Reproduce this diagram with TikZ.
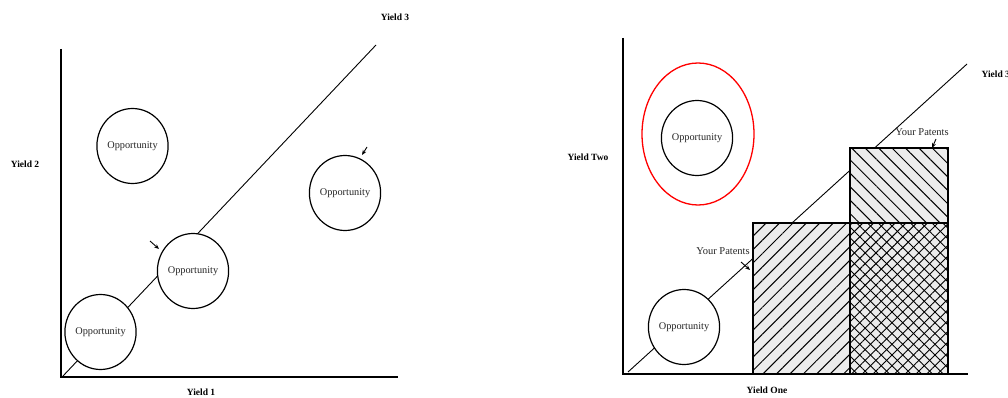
\documentclass[tikz,border=0pt]{standalone}
\usepackage{fontspec}
\setmainfont{Liberation Serif}
\usetikzlibrary{shapes.geometric,patterns.meta,arrows.meta}
\begin{document}
\begin{tikzpicture}[x=1pt,y=-1pt,
  axis/.style={line width=1.3pt},
  diag/.style={line width=0.9pt},
  opp/.style={ellipse,draw,line width=1.2pt,fill=white,inner sep=0pt,
    minimum width=64pt,minimum height=75pt,font=\fontsize{10.3}{12}\selectfont,text=black!85},
  lab/.style={font=\bfseries\fontsize{9.5}{11}\selectfont},
  pat/.style={font=\fontsize{10.5}{12}\selectfont,text=black!85},
  ptr/.style={-{Stealth[length=5pt,width=4pt]},line width=0.9pt},
  bar/.style={draw,line width=1.5pt,preaction={fill=gray!15}}
]
\useasboundingbox (0,0) rectangle (1008,398);
% ---------- left panel ----------
\coordinate (lo) at (61,377);
\coordinate (ltop) at (61,49);
\coordinate (lright) at (398,377);
\coordinate (ldA) at (63,376);
\coordinate (ldB) at (376,45);
\draw[axis] (ltop) -- (lo) -- (lright);
\draw[diag] (ldA) -- (ldB);
\node[opp] (o1) at (132.5,146) {Opportunity};
\node[opp] (o2) at (345,193) {Opportunity};
\node[opp] (o3) at (193,271) {Opportunity};
\node[opp] (o4) at (100.5,332) {Opportunity};
\node[lab] (y2) at (25,164) {Yield 2};
\node[lab] (y1) at (201,392) {Yield 1};
\node[lab] (y3) at (395,17) {Yield 3};
\coordinate (a1s) at (150,241);
\coordinate (a1e) at (159,249);
\draw[ptr] (a1s) -- (a1e);
\coordinate (a2s) at (367,147);
\coordinate (a2e) at (362,155);
\draw[ptr] (a2s) -- (a2e);
% ---------- right panel ----------
\coordinate (ro) at (623,374);
\coordinate (rtop) at (623,38);
\coordinate (rright) at (968,374);
\coordinate (rdA) at (628,372);
\coordinate (rdB) at (967,64);
\draw[axis] (rtop) -- (ro) -- (rright);
\draw[diag] (rdA) -- (rdB);
\node[ellipse,draw=red,line width=1.3pt,minimum width=112pt,minimum height=142pt,inner sep=0pt] (red) at (698,134) {};
\node[opp] (o5) at (697,138) {Opportunity};
\node[opp] (o6) at (684,327) {Opportunity};
\path[bar,pattern={Lines[angle=45,distance=9.5pt,line width=1pt]}] (753,223) rectangle (850,374);
\path[bar,pattern={Lines[angle=-45,distance=9.5pt,line width=1pt]}] (850,148) rectangle (948,223);
\path[bar,pattern={Lines[angle=45,distance=7.6pt,line width=0.9pt]},
  postaction={pattern={Lines[angle=-45,distance=7.6pt,line width=0.9pt]}}] (850,223) rectangle (948,374);
\node[lab] (yt) at (588,157) {Yield Two};
\node[lab] (yo) at (767,390) {Yield One};
\node[lab,anchor=west] (y3b) at (978,74) {Yield 3};
\node[pat] (p1) at (723,251) {Your Patents};
\node[pat] (p2) at (922,132) {Your Patents};
\coordinate (a3s) at (741,262);
\coordinate (a3e) at (750,270);
\draw[ptr] (a3s) -- (a3e);
\coordinate (a4s) at (936,139);
\coordinate (a4e) at (932,148);
\draw[ptr] (a4s) -- (a4e);
\end{tikzpicture}
\end{document}
